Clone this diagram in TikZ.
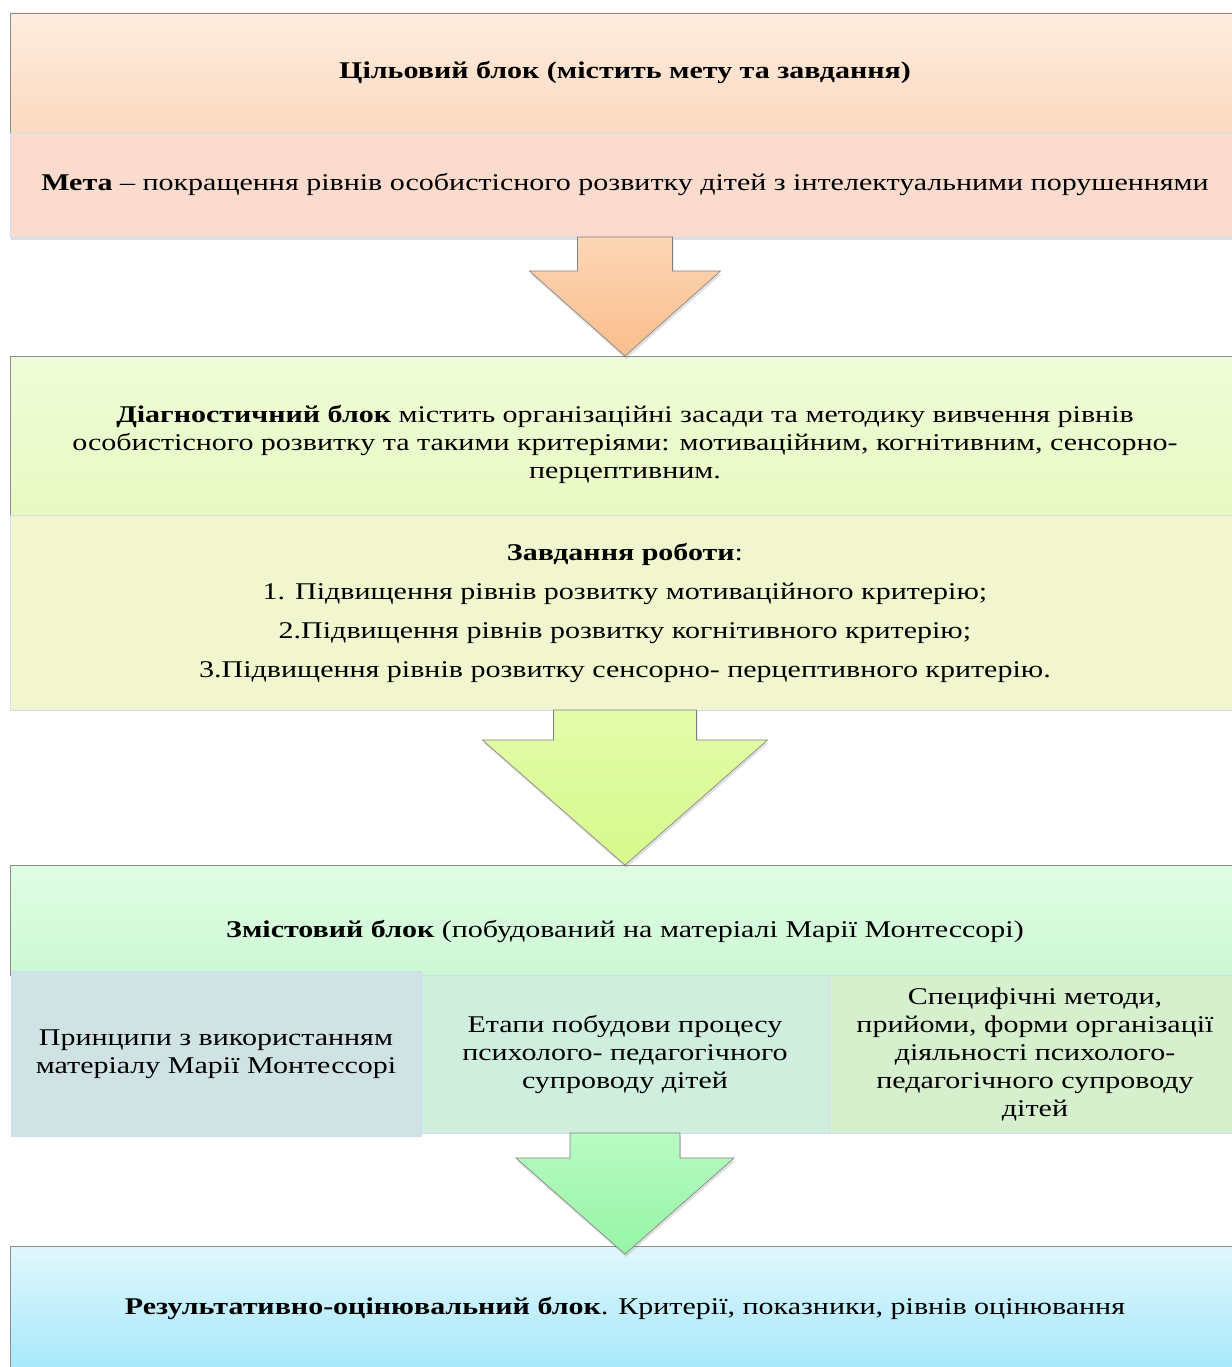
\documentclass[tikz,border=0pt]{standalone}
\usepackage{fontspec}
\setmainfont{Liberation Serif}[FakeStretch=1.25]
\usetikzlibrary{positioning, calc, shadows}

\definecolor{CilTop}{RGB}{253,236,222}
\definecolor{CilBot}{RGB}{252,218,192}
\definecolor{MetaPink}{RGB}{250,219,206}
\definecolor{DiagTop}{RGB}{240,252,216}
\definecolor{DiagBot}{RGB}{231,249,194}
\definecolor{ZavdYel}{RGB}{242,246,206}
\definecolor{ZmistTop}{RGB}{224,252,228}
\definecolor{ZmistBot}{RGB}{204,249,212}
\definecolor{PrinBlue}{RGB}{208,227,228}
\definecolor{EtapMint}{RGB}{208,238,222}
\definecolor{SpecGreen}{RGB}{214,240,206}
\definecolor{RezTop}{RGB}{224,247,252}
\definecolor{RezBot}{RGB}{166,232,250}
\definecolor{SubEdge}{RGB}{205,222,238}
\definecolor{OrangeTop}{RGB}{252,214,182}
\definecolor{OrangeBot}{RGB}{250,190,140}
\definecolor{LimeTop}{RGB}{228,251,170}
\definecolor{LimeBot}{RGB}{214,250,140}
\definecolor{MintTop}{RGB}{184,250,194}
\definecolor{MintBot}{RGB}{150,245,166}

\newcommand{\padtop}[1]{\rule{0pt}{#1}}

\tikzset{
  blk/.style 2 args={rectangle, draw=black!45, line width=0.6pt,
              top color=#1, bottom color=#2,
              minimum width=1230pt, inner sep=0pt, outer sep=0pt,
              align=center, font=\fontsize{24}{28}\selectfont},
  sub/.style={rectangle, draw=SubEdge, line width=0.8pt, fill=#1,
              inner sep=0pt, outer sep=0pt,
              align=center, font=\fontsize{24}{28}\selectfont},
  softshadow/.style={drop shadow={opacity=0.25, shadow xshift=1pt, shadow yshift=-3pt}},
  fatarr/.style 2 args={draw=black!50, line width=0.6pt, line join=miter,
              top color=#1, bottom color=#2, softshadow},
}

\begin{document}
\begin{tikzpicture}[x=1pt, y=-1pt]
  \useasboundingbox[fill=white] (0,0) rectangle (1231,1367);

  % target block
  \node[blk={CilTop}{CilBot}, minimum height=120pt] (cil) at (625,73)
       {\textbf{Цільовий блок (містить мету та завдання)}};
  \node[sub=MetaPink, softshadow, minimum width=1230pt, minimum height=104pt,
        below=0pt of cil] (meta)
       {\textbf{Мета} – покращення рівнів особистісного розвитку дітей з інтелектуальними порушеннями};

  % diagnostic block
  \node[blk={DiagTop}{DiagBot}, minimum height=159pt, below=119pt of meta] (diag)
       {\padtop{36pt}\textbf{Діагностичний блок} містить організаційні засади та методику вивчення рівнів\\
        особистісного розвитку та такими критеріями: мотиваційним, когнітивним, сенсорно-\\
        перцептивним.};
  \node[sub=ZavdYel, minimum width=1230pt, minimum height=195pt,
        below=0pt of diag] (zavd)
       {\textbf{Завдання роботи}:\\[11pt]
        1. Підвищення рівнів розвитку мотиваційного критерію;\\[11pt]
        2.Підвищення рівнів розвитку когнітивного критерію;\\[11pt]
        3.Підвищення рівнів розвитку сенсорно- перцептивного критерію.};

  % content block
  \node[blk={ZmistTop}{ZmistBot}, minimum height=110pt, below=155pt of zavd] (zmist)
       {\padtop{40pt}\textbf{Змістовий блок} (побудований на матеріалі Марії Монтессорі)};
  \node[sub=EtapMint, minimum width=408pt, minimum height=158pt,
        below=0pt of zmist] (etap)
       {Етапи побудови процесу\\психолого- педагогічного\\супроводу дітей};
  \node[sub=PrinBlue, minimum width=410pt, minimum height=165pt,
        left=0pt of etap] (prin)
       {Принципи з використанням\\матеріалу Марії Монтессорі};
  \node[sub=SpecGreen, minimum width=412pt, minimum height=158pt,
        right=0pt of etap] (spec)
       {Специфічні методи,\\прийоми, форми організації\\діяльності психолого-\\педагогічного супроводу\\дітей};

  % result block
  \node[blk={RezTop}{RezBot}, minimum height=125pt, below=113pt of etap] (rez)
       {\textbf{Результативно-оцінювальний блок}. Критерії, показники, рівнів оцінювання};

  % block arrows
  \draw[fatarr={OrangeTop}{OrangeBot}]
       ($(meta.south)+(-47.5,0)$) -- ($(meta.south)+(-47.5,34)$)
       -- ($(meta.south)+(-95.5,34)$) -- (diag.north)
       -- ($(meta.south)+(95.5,34)$) -- ($(meta.south)+(47.5,34)$)
       -- ($(meta.south)+(47.5,0)$) -- cycle;
  \draw[fatarr={LimeTop}{LimeBot}]
       ($(zavd.south)+(-71.5,0)$) -- ($(zavd.south)+(-71.5,30)$)
       -- ($(zavd.south)+(-142.5,30)$) -- (zmist.north)
       -- ($(zavd.south)+(142.5,30)$) -- ($(zavd.south)+(71.5,30)$)
       -- ($(zavd.south)+(71.5,0)$) -- cycle;
  \draw[fatarr={MintTop}{MintBot}]
       ($(etap.south)+(-55,0)$) -- ($(etap.south)+(-55,25)$)
       -- ($(etap.south)+(-109,25)$) -- ($(rez.north)+(0,8)$)
       -- ($(etap.south)+(109,25)$) -- ($(etap.south)+(55,25)$)
       -- ($(etap.south)+(55,0)$) -- cycle;
\end{tikzpicture}
\end{document}
